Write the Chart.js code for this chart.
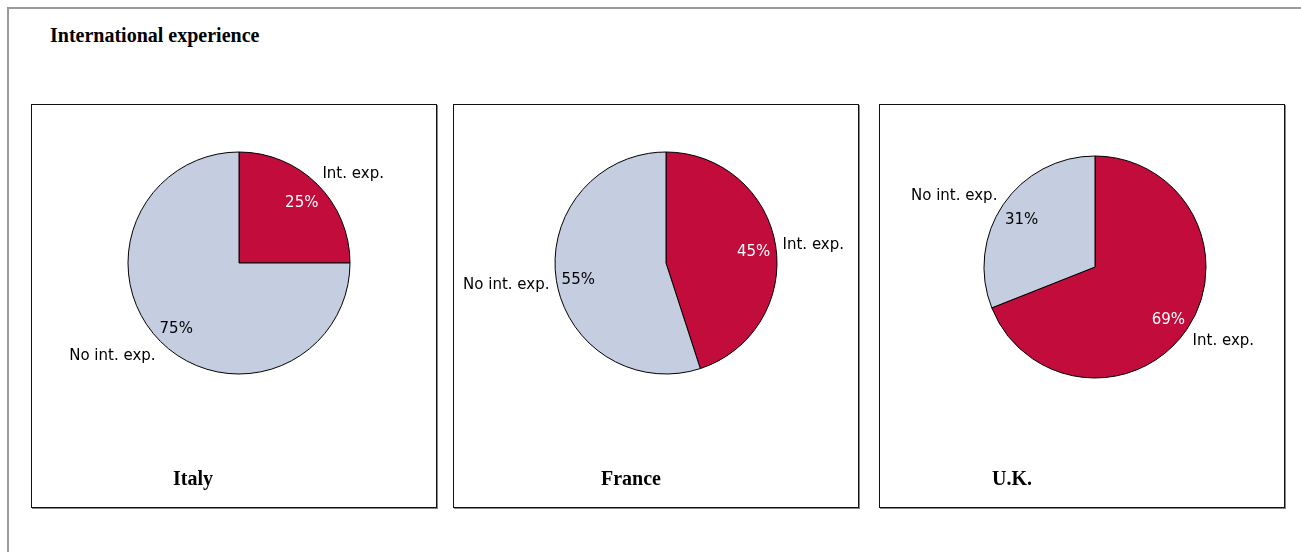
<!DOCTYPE html>
<html>
<head>
<meta charset="utf-8">
<title>International experience</title>
<script src="https://cdn.jsdelivr.net/npm/chart.js@4/dist/chart.umd.min.js"></script>
<style>
  body { margin: 0; background: #fff; width: 1301px; height: 552px; overflow: hidden; position: relative; }
  #frame { position: absolute; left: 7px; top: 7px; width: 1310px; height: 600px; border: 2px solid #9a9a9a; }
  #title { position: absolute; left: 50px; top: 24px; font: bold 20px "Liberation Serif", "Times New Roman", serif; color: #000; }
  .panel { position: absolute; top: 104px; width: 404px; height: 402px; border: 1px solid #111; box-shadow: 1px 1px 0 #888; }
  .panel canvas { position: absolute; left: 0; top: 0; }
  .country { position: absolute; top: 362px; font: bold 20px "Liberation Serif", "Times New Roman", serif; color: #000; transform: translateX(-50%); white-space: nowrap; }
</style>
</head>
<body>
<div id="frame"></div>
<div id="title">International experience</div>
<div id="panels"></div>
<script>
// values per country, share of managers with / without international experience
var countries = ['Italy', 'France', 'U.K.'];
var categories = ['Int. exp.', 'No int. exp.'];
var intExp = [25, 45, 69];
var noIntExp = [75, 55, 31];

var colors = ['#C20C3C', '#C4CEE0'];

// panel placement on the page and pie centre inside each panel
var panelLeft = [31, 453, 879];
var pieCentre = [[207, 158], [212, 158], [215, 162]];
var countryX = [161, 177, 132];
var RADIUS = 111;

var sliceLabels = {
    id: 'sliceLabels',
    afterDatasetsDraw: function (chart) {
        var ctx = chart.ctx;
        var meta = chart.getDatasetMeta(0);
        var values = chart.data.datasets[0].data;
        ctx.save();
        ctx.font = '15px "DejaVu Sans", Verdana, sans-serif';
        ctx.textBaseline = 'middle';
        meta.data.forEach(function (arc, i) {
            var p = arc.getProps(['x', 'y', 'startAngle', 'endAngle', 'outerRadius'], true);
            var mid = (p.startAngle + p.endAngle) / 2;
            var cos = Math.cos(mid), sin = Math.sin(mid);
            // percentage inside the slice
            ctx.textAlign = 'center';
            ctx.fillStyle = i === 0 ? '#fff' : '#000';
            ctx.fillText(values[i] + '%', p.x + cos * p.outerRadius * 0.8, p.y + sin * p.outerRadius * 0.8 + 3);
            // category name just outside the rim
            ctx.fillStyle = '#000';
            ctx.textAlign = cos >= 0 ? 'left' : 'right';
            ctx.fillText(chart.data.labels[i], p.x + cos * (p.outerRadius + 7), p.y + sin * (p.outerRadius + 18) + 2);
        });
        ctx.restore();
    }
};

var holder = document.getElementById('panels');

countries.forEach(function (name, k) {
    var panel = document.createElement('div');
    panel.className = 'panel';
    panel.style.left = panelLeft[k] + 'px';
    holder.appendChild(panel);

    var canvas = document.createElement('canvas');
    canvas.width = 404;
    canvas.height = 402;
    panel.appendChild(canvas);

    var label = document.createElement('div');
    label.className = 'country';
    label.style.left = countryX[k] + 'px';
    label.textContent = name;
    panel.appendChild(label);

    var cx = pieCentre[k][0], cy = pieCentre[k][1];

    new Chart(canvas.getContext('2d'), {
        type: 'pie',
        data: {
            labels: categories,
            datasets: [{
                data: [intExp[k], noIntExp[k]],
                backgroundColor: colors,
                borderColor: '#000',
                borderWidth: 1
            }]
        },
        options: {
            responsive: false,
            animation: false,
            radius: RADIUS,
            layout: {
                padding: {
                    left: cx - RADIUS,
                    right: 404 - cx - RADIUS,
                    top: cy - RADIUS,
                    bottom: 402 - cy - RADIUS
                }
            },
            plugins: {
                legend: { display: false },
                tooltip: { enabled: false }
            }
        },
        plugins: [sliceLabels]
    });
});
</script>
</body>
</html>
